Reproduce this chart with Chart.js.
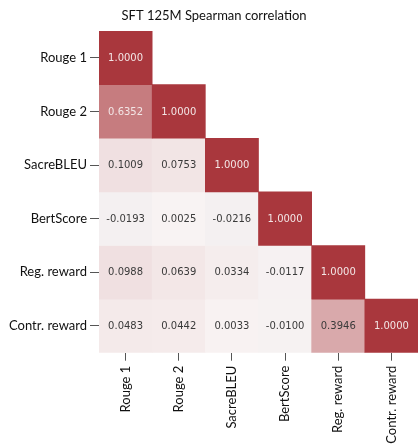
<!DOCTYPE html>
<html>
<head>
<meta charset="utf-8">
<script src="https://cdn.jsdelivr.net/npm/chart.js@4"></script>
<style>
html,body{margin:0;padding:0;background:#fff;}
#wrap{width:418px;height:446px;}
</style>
</head>
<body>
<div id="wrap"><canvas id="c" width="418" height="446"></canvas></div>
<script>
const chartTitle = "SFT 125M Spearman correlation";
const metrics = ["Rouge 1", "Rouge 2", "SacreBLEU", "BertScore", "Reg. reward", "Contr. reward"];
const rowRouge1 = [1.0000];
const rowRouge2 = [0.6352, 1.0000];
const rowSacreBLEU = [0.1009, 0.0753, 1.0000];
const rowBertScore = [-0.0193, 0.0025, -0.0216, 1.0000];
const rowRegReward = [0.0988, 0.0639, 0.0334, -0.0117, 1.0000];
const rowContrReward = [0.0483, 0.0442, 0.0033, -0.0100, 0.3946, 1.0000];
const rows = [rowRouge1, rowRouge2, rowSacreBLEU, rowBertScore, rowRegReward, rowContrReward];

const center = [248, 243, 243];
const red = [169, 55, 61];
const blue = [60, 100, 160];
function cellColor(v) {
  const t = Math.min(1, Math.abs(v));
  const end = v >= 0 ? red : blue;
  const c = center.map((a, i) => Math.round(a + (end[i] - a) * t));
  return `rgb(${c[0]},${c[1]},${c[2]})`;
}

const datasets = rows.map((vals, r) => ({
  label: metrics[r],
  data: metrics.map((_, c) => c < vals.length ? [r - 0.5, r + 0.5] : null),
  values: vals,
  backgroundColor: metrics.map((_, c) => c < vals.length ? cellColor(vals[c]) : 'rgba(0,0,0,0)'),
  borderWidth: 0,
  barPercentage: 1,
  categoryPercentage: 1,
  grouped: false
}));

const valueLabels = {
  id: 'valueLabels',
  afterDatasetsDraw(chart) {
    const ctx = chart.ctx;
    ctx.save();
    ctx.font = '10px "DejaVu Sans"';
    ctx.textAlign = 'center';
    ctx.textBaseline = 'middle';
    chart.data.datasets.forEach((ds, di) => {
      const meta = chart.getDatasetMeta(di);
      meta.data.forEach((el, i) => {
        if (i >= ds.values.length) return;
        const v = ds.values[i];
        const p = el.getCenterPoint();
        ctx.fillStyle = v > 0.5 ? '#f3e6e6' : '#3a3a3a';
        ctx.fillText(v.toFixed(4), p.x, p.y + 0.5);
      });
    });
    ctx.restore();
  }
};

const titlePlugin = {
  id: 'titlePlugin',
  afterDraw(chart) {
    const ctx = chart.ctx;
    ctx.save();
    ctx.font = '13px Lato';
    ctx.fillStyle = '#111';
    ctx.textAlign = 'center';
    ctx.textBaseline = 'middle';
    ctx.fillText(chartTitle, 214, 16);
    ctx.restore();
  }
};

new Chart(document.getElementById('c'), {
  type: 'bar',
  data: { labels: metrics, datasets },
  plugins: [valueLabels, titlePlugin],
  options: {
    responsive: false,
    animation: false,
    layout: { padding: { top: 31, right: 0, left: 0, bottom: 0 } },
    plugins: { legend: { display: false }, tooltip: { enabled: false }, title: { display: false } },
    scales: {
      x: {
        type: 'category',
        offset: true,
        grid: { offset: false, drawOnChartArea: false, drawTicks: true, tickLength: 8, color: '#555', lineWidth: 1 },
        border: { display: false },
        ticks: { minRotation: 90, maxRotation: 90, padding: 5, color: '#111', font: { family: 'Lato', size: 13 } },
        afterFit(s) { s.height = 93.3; }
      },
      y: {
        type: 'linear',
        reverse: true,
        min: -0.5,
        max: 5.5,
        afterBuildTicks(s) { s.ticks = metrics.map((_, i) => ({ value: i })); },
        grid: { drawOnChartArea: false, drawTicks: true, tickLength: 9, color: '#555', lineWidth: 1 },
        border: { display: false },
        ticks: { padding: 3, color: '#111', font: { family: 'Lato', size: 13 }, callback: (v) => metrics[v] },
        afterFit(s) { s.width = 99; }
      }
    }
  }
});
</script>
</body>
</html>
